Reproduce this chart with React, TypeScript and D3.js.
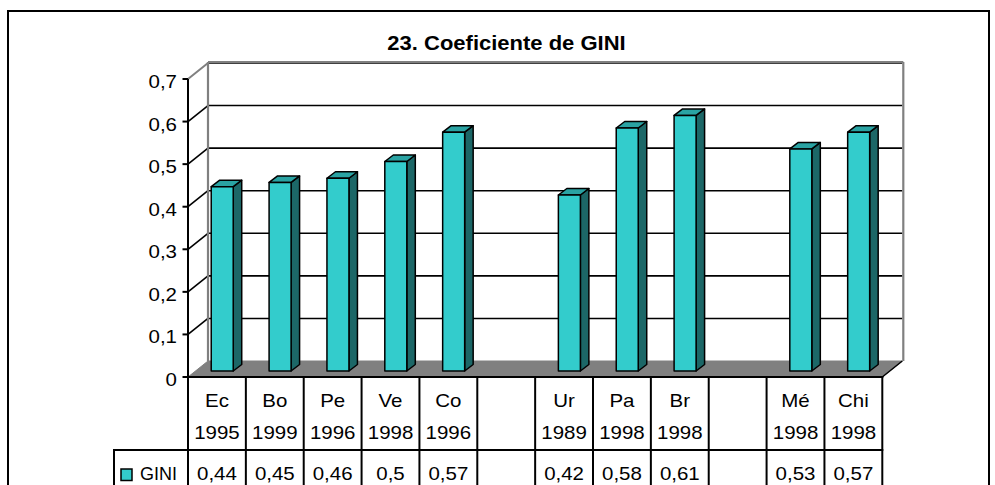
import React from "react";
import * as d3 from "d3";

const categories = ["Ec", "Bo", "Pe", "Ve", "Co", "", "Ur", "Pa", "Br", "", "Mé", "Chi"];
const years = ["1995", "1999", "1996", "1998", "1996", "", "1989", "1998", "1998", "", "1998", "1998"];
const gini: (number | null)[] = [0.44, 0.45, 0.46, 0.5, 0.57, null, 0.42, 0.58, 0.61, null, 0.53, 0.57];
const yTicks = [0, 0.1, 0.2, 0.3, 0.4, 0.5, 0.6, 0.7];
const seriesName = "GINI";
const title = "23. Coeficiente de GINI";

const W = 995;
const H = 485;
const FONT = "'Liberation Sans', Arial, Helvetica, sans-serif";
const FACE = "#33CCCC";
const TOP = "#2AA3A3";
const SIDE = "#1C6767";

const fmt = (v: number) => String(+v.toFixed(2)).replace(".", ",");

const T = ({ x, y, anchor = "middle", size = 18.6, weight = "normal", sx = 1.1, children }: any) => (
  <text
    transform={`translate(${x},${y}) scale(${sx},1)`}
    textAnchor={anchor}
    fontSize={size}
    fontWeight={weight}
    fontFamily={FONT}
    fill="#000"
  >
    {children}
  </text>
);

export default function App() {
  const x0 = 188;
  const x1 = 882.3;
  const depthX = 20;
  const depthY = -16;
  const idx = categories.map((_, i) => String(i));
  const x = d3.scaleBand<string>().domain(idx).range([x0, x1]).paddingInner(0).paddingOuter(0);
  const bw = x.bandwidth();
  const yF = d3.scaleLinear().domain([0, 0.7]).range([377, 79]);
  const yB = (v: number) => yF(v) + depthY;
  // bar plane (slightly recessed inside the 3D box)
  const barOx = 5.3;
  const barBase = 371;
  const yBar = d3.scaleLinear().domain([0, 0.7]).range([barBase, barBase - 0.7 * 419]);
  const barW = 22;
  const bdx = 8.5;
  const bdy = -6.5;

  const backL = x0 + depthX;
  const backR = x1 + depthX;
  const backT = yB(0.7);
  const backBot = yB(0);

  const tableTop = yF(0);
  const rowLine = 450;
  const legendLeft = 114;

  return (
    <svg
      width={W}
      height={H}
      style={{ position: "absolute", left: 0, top: 0, background: "#fff" }}
      xmlns="http://www.w3.org/2000/svg"
    >
      <rect x={0} y={0} width={W} height={H} fill="#fff" />
      {/* outer frame */}
      <rect x={8} y={11} width={981} height={520} fill="#fff" stroke="#000" strokeWidth={2} />

      <T x={506.5} y={50} size={20} weight="bold">{title}</T>

      {/* floor */}
      <polygon
        points={`${x0},${tableTop} ${backL},${backBot} ${backR},${backBot} ${x1},${tableTop}`}
        fill="#808080"
        stroke="#808080"
        strokeWidth={1}
      />
      <line x1={x1} y1={tableTop} x2={backR} y2={backBot} stroke="#000" strokeWidth={1.5} />

      {/* back wall gridlines */}
      {yTicks.slice(1).map((t) => (
        <line key={"g" + t} x1={backL} x2={backR} y1={yB(t)} y2={yB(t)} stroke="#000" strokeWidth={1.6} />
      ))}
      {/* left wall gridlines */}
      {yTicks.slice(1, -1).map((t) => (
        <line key={"lg" + t} x1={x0} y1={yF(t)} x2={backL} y2={yB(t)} stroke="#000" strokeWidth={1.6} />
      ))}
      <line x1={x0} y1={yF(0.7)} x2={backL} y2={yB(0.7)} stroke="#808080" strokeWidth={2} />
      {/* back wall border */}
      <line x1={backL} y1={backT - 1} x2={backR + 1} y2={backT - 1} stroke="#808080" strokeWidth={2} />
      <line x1={backL} y1={backT - 1} x2={backL} y2={backBot} stroke="#808080" strokeWidth={2.2} />
      <line x1={backR + 1} y1={backT - 1} x2={backR + 1} y2={backBot} stroke="#808080" strokeWidth={2.2} />

      {/* bars */}
      {gini.map((v, i) => {
        if (v == null) return null;
        const cx = (x(String(i)) as number) + bw / 2 + barOx;
        const l = cx - barW / 2;
        const r = cx + barW / 2;
        const top = yBar(v);
        const bot = yBar(0);
        return (
          <g key={"b" + i} stroke="#000" strokeWidth={1.5} strokeLinejoin="round">
            <polygon points={`${r},${bot} ${r + bdx},${bot + bdy} ${r + bdx},${top + bdy} ${r},${top}`} fill={SIDE} />
            <polygon points={`${l},${top} ${l + bdx},${top + bdy} ${r + bdx},${top + bdy} ${r},${top}`} fill={TOP} />
            <rect x={l} y={top} width={barW} height={bot - top} fill={FACE} />
          </g>
        );
      })}

      {/* front axis */}
      <line x1={x0} y1={yF(0.7)} x2={x0} y2={H + 5} stroke="#000" strokeWidth={2} />
      {yTicks.map((t) => (
        <g key={"t" + t}>
          <line x1={182.5} x2={x0} y1={yF(t)} y2={yF(t)} stroke="#000" strokeWidth={2} />
          <T x={177} y={yF(t) + 9} anchor="end">{fmt(t)}</T>
        </g>
      ))}

      {/* data table */}
      <line x1={x0 - 1} x2={x1 + 1} y1={tableTop} y2={tableTop} stroke="#000" strokeWidth={2} />
      <line x1={legendLeft - 1} x2={x1 + 1} y1={rowLine} y2={rowLine} stroke="#000" strokeWidth={2} />
      <line x1={legendLeft} x2={legendLeft} y1={rowLine} y2={H + 5} stroke="#000" strokeWidth={2} />
      {idx.map((k, i) => (
        <line
          key={"v" + k}
          x1={(x(k) as number) + bw}
          x2={(x(k) as number) + bw}
          y1={i === categories.length - 1 ? tableTop - 1 : tableTop}
          y2={H + 5}
          stroke="#000"
          strokeWidth={2}
        />
      ))}
      {categories.map((c, i) => {
        const cx = (x(String(i)) as number) + bw / 2;
        return (
          <g key={"c" + i}>
            {c && <T x={cx} y={407}>{c}</T>}
            {years[i] && <T x={cx} y={439}>{years[i]}</T>}
            {gini[i] != null && <T x={cx} y={479.5}>{fmt(gini[i] as number)}</T>}
          </g>
        );
      })}
      {/* legend key */}
      <rect x={121} y={469} width={11} height={11.5} fill={FACE} stroke="#000" strokeWidth={1.5} />
      <text
        x={140}
        y={480}
        fontSize={18.6}
        fontFamily={FONT}
        textLength={37}
        lengthAdjust="spacingAndGlyphs"
      >
        {seriesName}
      </text>
    </svg>
  );
}
